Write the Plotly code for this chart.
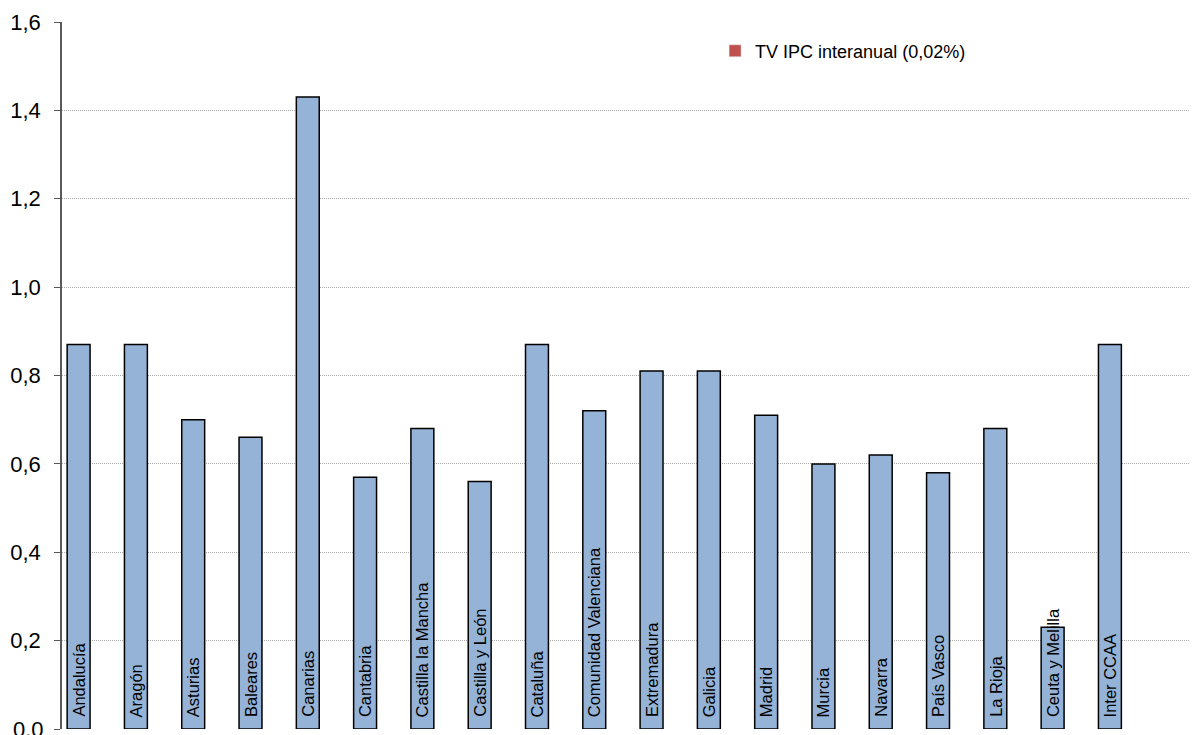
import plotly.graph_objects as go

# -- data
regions = [
    "Andalucía", "Aragón", "Asturias", "Baleares", "Canarias", "Cantabria",
    "Castilla la Mancha", "Castilla y León", "Cataluña", "Comunidad Valenciana",
    "Extremadura", "Galicia", "Madrid", "Murcia", "Navarra", "País Vasco",
    "La Rioja", "Ceuta y Melilla", "Inter CCAA",
]
tv_values = [
    0.87, 0.87, 0.70, 0.66, 1.43, 0.57, 0.68, 0.56, 0.87, 0.72,
    0.81, 0.81, 0.71, 0.60, 0.62, 0.58, 0.68, 0.23, 0.87,
]
legend_name = "TV IPC interanual (0,02%)"
y_ticks = [0.0, 0.2, 0.4, 0.6, 0.8, 1.0, 1.2, 1.4, 1.6]

FONT = "Liberation Sans, Arial, sans-serif"
BAR_OFFSET = -0.41
BAR_WIDTH = 0.40

idx = list(range(len(regions)))

fig = go.Figure()
fig.add_trace(go.Bar(
    x=idx, y=tv_values, name="TV",
    width=BAR_WIDTH, offset=BAR_OFFSET,
    marker=dict(color="#95B3D7", line=dict(color="#000000", width=1.5)),
    showlegend=False,
))
# legend-only series (red square)
fig.add_trace(go.Bar(
    x=idx, y=[None] * len(idx), name=legend_name,
    marker=dict(color="#C0504D"), showlegend=True,
))

# region names, rotated inside each bar
for i, name in zip(idx, regions):
    fig.add_annotation(
        x=i + BAR_OFFSET + BAR_WIDTH / 2, y=0, xref="x", yref="y",
        text=name, textangle=-90, showarrow=False,
        xanchor="center", yanchor="bottom", yshift=10,
        font=dict(family=FONT, size=16.5, color="#000000"),
    )

# the 0,0 tick label sits half off the bottom edge, plotly drops it
fig.add_annotation(
    x=0, y=y_ticks[0], xref="paper", yref="y",
    text=f"{y_ticks[0]:.1f}".replace(".", ","), showarrow=False,
    xanchor="right", yanchor="middle", xshift=-16,
    font=dict(family=FONT, size=22, color="#000000"),
)

# the page body adds 8px around the figure, so size it to fit the window
fig.update_layout(
    width=1189, height=727,
    margin=dict(l=54, r=0, t=14, b=6, autoexpand=False),
    plot_bgcolor="white", paper_bgcolor="white",
    separators=", ",
    barmode="overlay",
    showlegend=True,
    legend=dict(
        x=0.5754, y=0.985, xanchor="left", yanchor="top",
        font=dict(family=FONT, size=18, color="#000000"),
        bgcolor="rgba(0,0,0,0)", itemwidth=30,
    ),
    font=dict(family=FONT, color="#000000"),
)
fig.update_xaxes(
    range=[-0.5, 19.31], showticklabels=False, showgrid=False,
    zeroline=False, showline=False, ticks="", automargin=False,
)
fig.update_yaxes(
    range=[0, 1.6], tickvals=y_ticks, tickformat=".1f",
    showgrid=True, gridcolor="#ABABAB", griddash="1px,1px", gridwidth=1,
    zeroline=False, showline=True, linecolor="#595959", linewidth=1.5,
    ticks="outside", ticklen=6, tickcolor="#595959", automargin=False,
    ticklabelstandoff=9,
    tickfont=dict(family=FONT, size=22, color="#000000"),
)

fig.write_html("out.html")
